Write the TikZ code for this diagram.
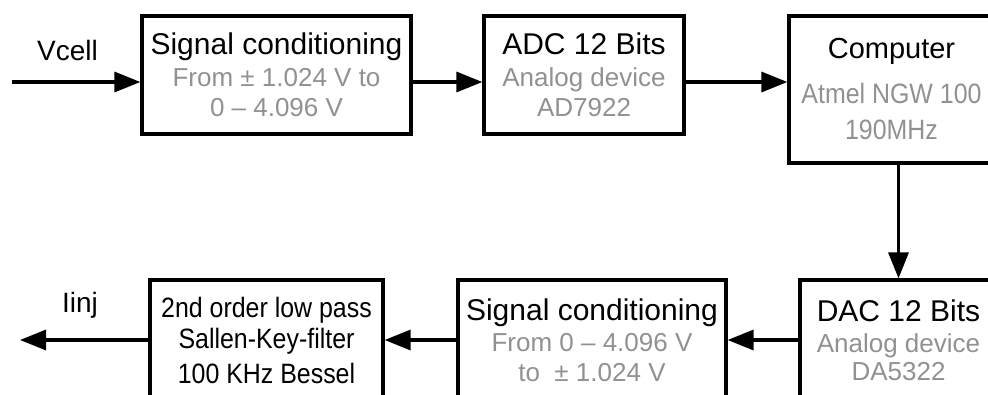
\documentclass[tikz,border=0pt]{standalone}
\usepackage{xcolor}
\usepackage{fontspec}
\setmainfont{Liberation Sans}
\newfontfamily\narrowsans[FakeStretch=0.89]{Liberation Sans}
\usepackage{tikz}
\usetikzlibrary{arrows.meta}

\definecolor{notegray}{RGB}{145,145,145}
\newcommand{\blocktitle}[1]{{\fontsize{30}{30}\selectfont #1}}
\newcommand{\blocknote}[1]{\textcolor{notegray}{#1}}

\tikzset{
  block/.style={draw, line width=3.2pt, align=center, inner sep=0pt,
    font=\fontsize{26}{30}\selectfont},
  flow/.style={line width=3.2pt, -{Triangle[length=26pt,width=20pt]}},
  siglabel/.style={anchor=base, font=\fontsize{28}{30}\selectfont}
}

\begin{document}
\begin{tikzpicture}[x=1pt,y=-1pt]
\useasboundingbox (0,0) rectangle (988,394);
% upper row
\node[block, minimum width=269pt, minimum height=118pt] (sc1) at (276.5,75)
  {\blocktitle{Signal conditioning}\\[2pt]
   \blocknote{From ± 1.024 V to}\\ \blocknote{0 – 4.096 V}};
\node[block, minimum width=200pt, minimum height=118pt] (adc) at (584,75)
  {\blocktitle{ADC 12 Bits}\\[2pt]
   \blocknote{Analog device}\\ \blocknote{AD7922}};
\node[block, minimum width=205pt, minimum height=147pt,
  font=\fontsize{28}{36}\selectfont] (comp) at (891.5,89.5)
  {{\fontsize{29}{36}\selectfont Computer}\\[9pt]
   \blocknote{\narrowsans Atmel NGW 100}\\ \blocknote{\narrowsans 190MHz}};
% lower row
\node[block, minimum width=197pt, minimum height=120pt,
  font=\fontsize{26}{28}\selectfont] (dac) at (898.5,340)
  {\blocktitle{DAC 12 Bits}\\[3pt]
   \blocknote{Analog device}\\ \blocknote{DA5322}};
\node[block, minimum width=268pt, minimum height=120pt] (sc2) at (592,340)
  {\blocktitle{Signal conditioning}\\[1pt]
   \blocknote{From 0 – 4.096 V}\\ \blocknote{to ~± 1.024 V}};
\node[block, minimum width=233pt, minimum height=120pt,
  font=\narrowsans\fontsize{28}{31}\selectfont] (filt) at (266.5,340)
  {2nd order low pass\\ Sallen-Key-filter\\[4pt] 100 KHz Bessel};
% signals
\coordinate (vin) at (12,82);
\coordinate (iout) at (20,340);
\node[siglabel] (vcell) at (67.5,60) {Vcell};
\node[siglabel] (iinj) at (80,312) {Iinj};
\draw[flow] (vin) -- (vin -| sc1.west);
\draw[flow] (vin -| sc1.east) -- (vin -| adc.west);
\draw[flow] (vin -| adc.east) -- (vin -| comp.west);
\draw[flow] (dac.north |- comp.south) -- (dac.north);
\draw[flow] (dac.west) -- (sc2.east);
\draw[flow] (sc2.west) -- (filt.east);
\draw[flow] (filt.west) -- (iout);
\end{tikzpicture}
\end{document}
